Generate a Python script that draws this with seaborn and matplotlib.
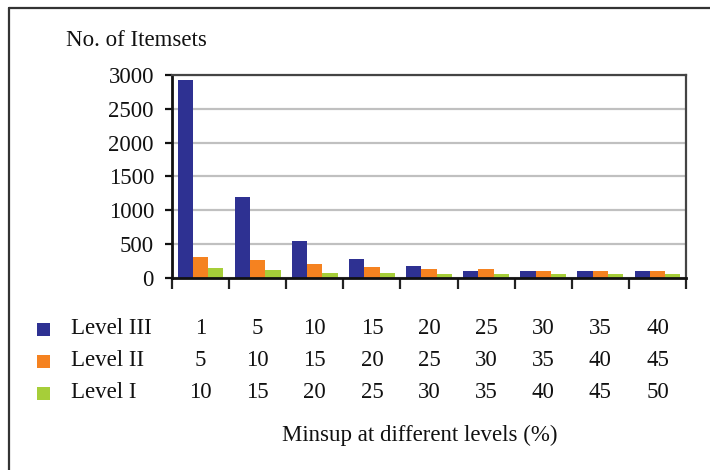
import numpy as np
import pandas as pd
import matplotlib
matplotlib.use("Agg")
import matplotlib.pyplot as plt
import seaborn as sns
from matplotlib.transforms import blended_transform_factory
from matplotlib.patches import Rectangle
from matplotlib.lines import Line2D

# Series, colours and the minimum-support table shown under the bars
levels = ["Level III", "Level II", "Level I"]
level_colors = ["#2E3192", "#F58220", "#A6CE39"]
minsup_level3 = [1, 5, 10, 15, 20, 25, 30, 35, 40]
minsup_level2 = [5, 10, 15, 20, 25, 30, 35, 40, 45]
minsup_level1 = [10, 15, 20, 25, 30, 35, 40, 45, 50]
itemsets_level3 = [2920, 1190, 550, 280, 170, 95, 95, 95, 95]
itemsets_level2 = [310, 265, 205, 160, 125, 125, 95, 95, 95]
itemsets_level1 = [145, 115, 70, 70, 55, 55, 55, 55, 55]
y_ticks = [0, 500, 1000, 1500, 2000, 2500, 3000]

sns.set_theme(style="white")
plt.rcParams["font.family"] = ["Liberation Serif", "DejaVu Serif"]
FS = 16.5

n = len(minsup_level3)
settings = [str(i + 1) for i in range(n)]
df = pd.DataFrame({
    "setting": settings * 3,
    "level": np.repeat(levels, n),
    "itemsets": itemsets_level3 + itemsets_level2 + itemsets_level1,
})

fig = plt.figure(figsize=(7.1, 4.7), dpi=100)
ax = fig.add_axes([172 / 710, 1 - 277.7 / 470, 514 / 710, 202.7 / 470])

sns.barplot(data=df, x="setting", y="itemsets", hue="level", hue_order=levels,
            palette=level_colors, saturation=1, width=0.8, ax=ax,
            legend=False, edgecolor="none", linewidth=0)

ax.set_xlim(-0.5, n - 0.5)
ax.set_ylim(0, 3000)
ax.set_yticks(y_ticks)
ax.set_yticklabels([str(v) for v in y_ticks], fontsize=FS, color="#111111")
ax.set_xticks(np.arange(-0.5, n, 1.0))
ax.set_xticklabels([])
ax.set_xlabel("")
ax.set_ylabel("")
ax.tick_params(axis="y", direction="out", length=5, width=1.6, pad=8, color="#111111", left=True)
ax.tick_params(axis="x", direction="out", length=8, width=1.6, color="#222222", bottom=True)

ax.yaxis.grid(True, color="#c0c0c0", linewidth=1.6)
ax.xaxis.grid(False)
ax.set_axisbelow(True)
for side in ("left", "bottom"):
    ax.spines[side].set_color("#111111")
    ax.spines[side].set_linewidth(2.0)
for side in ("top", "right"):
    ax.spines[side].set_color("#444444")
    ax.spines[side].set_linewidth(1.6)

# Data table with colour keys beneath the plot
row_y = [1 - 329 / 470, 1 - 361 / 470, 1 - 393 / 470]
rows = [minsup_level3, minsup_level2, minsup_level1]
trans = blended_transform_factory(ax.transData, fig.transFigure)
for r, (label, color, values) in enumerate(zip(levels, level_colors, rows)):
    fig.add_artist(Rectangle((37 / 710, row_y[r] - 6.5 / 470), 13 / 710, 13 / 470,
                             transform=fig.transFigure, facecolor=color, edgecolor="none"))
    fig.text(71 / 710, row_y[r], label, ha="left", va="center", fontsize=FS, color="#111111")
    for i, v in enumerate(values):
        ax.text(i, row_y[r], str(v), transform=trans, ha="center", va="center",
                fontsize=FS, color="#111111", clip_on=False)

fig.text(420 / 710, 1 - 435 / 470, "Minsup at different levels (%)", ha="center", va="center",
         fontsize=FS, color="#111111")
fig.text(136 / 710, 1 - 40 / 470, "No. of Itemsets", ha="center", va="center",
         fontsize=FS, color="#111111")

# Outer frame (left and top edges)
fig.add_artist(Line2D([8.5 / 710, 8.5 / 710], [0, 1 - 7.5 / 470], transform=fig.transFigure,
                      color="#333333", linewidth=1.6))
fig.add_artist(Line2D([8.5 / 710, 1], [1 - 7.5 / 470, 1 - 7.5 / 470], transform=fig.transFigure,
                      color="#333333", linewidth=1.6))

fig.savefig("out.png", dpi=100, facecolor="white")
